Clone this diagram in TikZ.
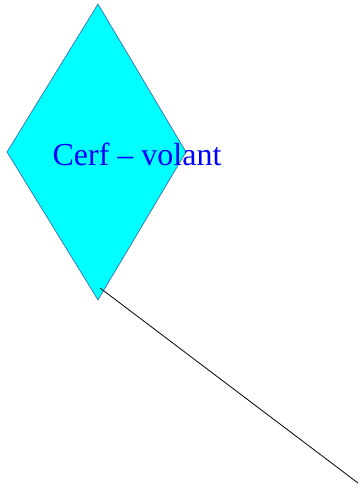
\documentclass[tikz,border=0pt]{standalone}
\usepackage{fontspec}
\setmainfont{Liberation Serif}
\definecolor{cyanvif}{RGB}{0,255,255}
\definecolor{bordvoile}{RGB}{60,90,160}
\begin{document}
\begin{tikzpicture}[x=1pt,y=-1pt,
        voile/.style={fill=cyanvif, draw=bordvoile, line width=0.6pt},
        etiquette/.style={text=blue, font=\fontsize{32}{38}\selectfont, inner sep=0pt},
        ficelle/.style={draw=black, line width=0.8pt}
    ]
        \useasboundingbox (0,0) rectangle (360,488);
        \coordinate (haut) at (98,4);
        \coordinate (gauche) at (7,152);
        \coordinate (droite) at (186,152);
        \coordinate (bas) at (98,300);
        \draw[voile] (haut) -- (droite) -- (bas) -- (gauche) -- cycle;
        \node[etiquette, anchor=base] (titre) at (137,165) {Cerf – volant};
        \coordinate (attache) at (100,288);
        \coordinate (main) at (358,483);
        \draw[ficelle] (attache) -- (main);
    \end{tikzpicture}
\end{document}
